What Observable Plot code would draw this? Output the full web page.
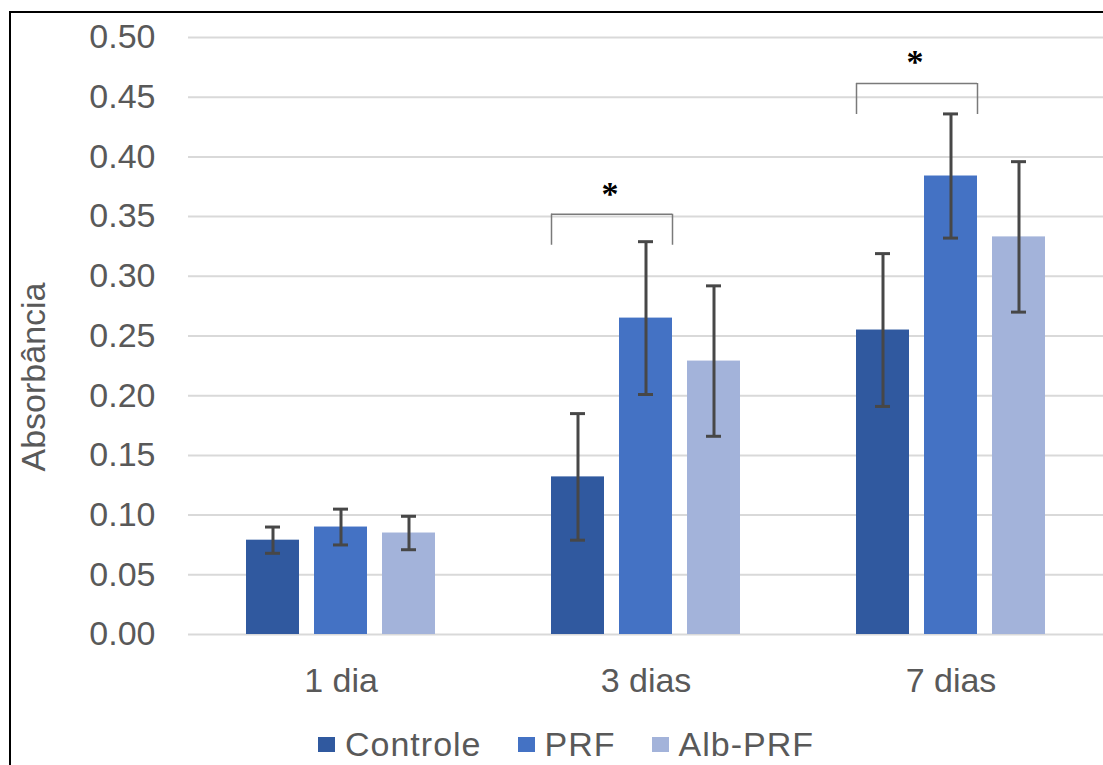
<!DOCTYPE html>
<html>
<head>
<meta charset="utf-8">
<script src="https://cdn.jsdelivr.net/npm/d3@7"></script>
<script src="https://cdn.jsdelivr.net/npm/@observablehq/plot@0.6"></script>
<style>
  html, body { margin: 0; padding: 0; background: #fff; overflow: hidden; }
  #wrap { position: relative; width: 1103px; height: 765px; overflow: hidden; font-family: "Liberation Sans", Arial, sans-serif; }
  #chart svg { display: block; }
  #frame { position: absolute; left: 9px; top: 11px; width: 1300px; height: 900px; border-left: 2px solid #000; border-top: 2px solid #000; pointer-events: none; box-sizing: border-box; z-index: 5; }
  #legend { display: flex; align-items: center; height: 60px; padding-left: 318px; padding-top: 18px; box-sizing: border-box; color: #595959; font-size: 34px; letter-spacing: 1px; }
  .item { display: flex; align-items: center; margin-right: 36px; }
  .sw { width: 17px; height: 15px; margin-right: 10px; }
</style>
</head>
<body>
<div id="wrap">
  <div id="chart"></div>
  <div id="legend"></div>
  <div id="frame"></div>
</div>
<script>
// ---- data ----
const days = ["1 dia", "3 dias", "7 dias"];
const series = ["Controle", "PRF", "Alb-PRF"];
const colors = ["#30599f", "#4472c4", "#a3b3da"];
const controle = [0.079, 0.132, 0.255];
const prf = [0.090, 0.265, 0.384];
const albPrf = [0.085, 0.229, 0.333];
const controleErr = [0.011, 0.053, 0.064];
const prfErr = [0.015, 0.064, 0.052];
const albPrfErr = [0.014, 0.063, 0.063];
const yTicks = [0, 0.05, 0.10, 0.15, 0.20, 0.25, 0.30, 0.35, 0.40, 0.45, 0.50];
// significance brackets (Controle vs PRF)
const sigDays = ["3 dias", "7 dias"];
const bracketTop = [0.352, 0.4615];
const bracketLeg = [0.326, 0.4355];
const starY = [0.375, 0.485];
const yTitle = "Absorbância";

// ---- tables built from the arrays ----
const values = [controle, prf, albPrf];
const errs = [controleErr, prfErr, albPrfErr];
const rows = [];
days.forEach((day, i) => series.forEach((s, j) => {
  rows.push({day, series: s, value: values[j][i], err: errs[j][i]});
}));
const sig = sigDays.map((day, i) => ({day, left: series[0], right: series[1], top: bracketTop[i], leg: bracketLeg[i], star: starY[i]}));

const errColor = "#474747";
const chart = Plot.plot({
  width: 1103,
  height: 705,
  marginLeft: 187,
  marginRight: 0,
  marginTop: 37,
  marginBottom: 71,
  style: {fontFamily: "'Liberation Sans', Arial, sans-serif", fontSize: "34px", color: "#595959", background: "transparent", overflow: "visible"},
  fx: {domain: days, padding: 0, label: null, axis: null},
  x: {domain: series, paddingInner: 0.226, paddingOuter: 0.84, axis: null},
  y: {domain: [0, 0.5], label: null},
  color: {domain: series, range: colors},
  marks: [
    Plot.ruleY(yTicks, {stroke: "#d9d9d9", strokeWidth: 2}),
    Plot.barY(rows, {fx: "day", x: "series", y: "value", fill: "series"}),
    Plot.ruleX(rows, {fx: "day", x: "series", y1: d => d.value - d.err, y2: d => d.value + d.err, stroke: errColor, strokeWidth: 3}),
    Plot.tickY(rows, {fx: "day", x: "series", y: d => d.value + d.err, stroke: errColor, strokeWidth: 3, insetLeft: 19, insetRight: 19}),
    Plot.tickY(rows, {fx: "day", x: "series", y: d => d.value - d.err, stroke: errColor, strokeWidth: 3, insetLeft: 19, insetRight: 19}),
    Plot.ruleY(sig, {fx: "day", x1: "left", x2: "right", y: "top", stroke: "#7a7a7a", strokeWidth: 1.5}),
    Plot.ruleX(sig, {fx: "day", x: "left", dx: -26.5, y1: "leg", y2: "top", stroke: "#7a7a7a", strokeWidth: 1.5}),
    Plot.ruleX(sig, {fx: "day", x: "right", dx: 26.5, y1: "leg", y2: "top", stroke: "#7a7a7a", strokeWidth: 1.5}),
    Plot.text(sig, {fx: "day", x: "left", dx: 32, y: "star", text: () => "*", fontSize: 34, fontWeight: "bold", fontFamily: "'Liberation Serif', serif", fill: "#000", lineAnchor: "middle", dy: 7}),
    Plot.axisY({ticks: yTicks, tickSize: 0, tickPadding: 33, tickFormat: d3.format(".2f"), label: null, fill: "#595959", letterSpacing: 1}),
    Plot.axisFx({anchor: "bottom", tickSize: 0, tickPadding: 33, label: null, fill: "#595959"}),
    Plot.text([yTitle], {fx: () => days[0], frameAnchor: "left", textAnchor: "middle", rotate: -90, dx: -154, dy: 41, fill: "#595959", fontSize: 34, letterSpacing: 1})
  ]
});
document.getElementById("chart").appendChild(chart);

// ---- legend (below the SVG) ----
const legend = document.getElementById("legend");
series.forEach((s, i) => {
  const item = document.createElement("div");
  item.className = "item";
  const sw = document.createElement("span");
  sw.className = "sw";
  sw.style.background = colors[i];
  const lab = document.createElement("span");
  lab.textContent = s;
  item.appendChild(sw);
  item.appendChild(lab);
  legend.appendChild(item);
});
</script>
</body>
</html>
